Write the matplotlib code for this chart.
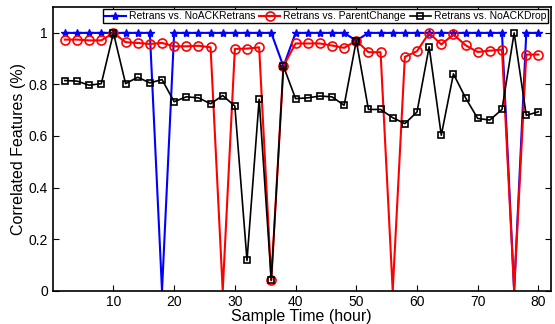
import matplotlib
matplotlib.use('Agg')
import matplotlib.pyplot as plt

plt.rcParams['font.family'] = ['Liberation Sans', 'DejaVu Sans']

hours = list(range(2, 81, 2))

no_ack_retrans = [1, 1, 1, 1, 1, 1, 1, 1, 0, 1,
                  1, 1, 1, 1, 1, 1, 1, 1, 0.87, 1,
                  1, 1, 1, 1, 0.97, 1, 1, 1, 1, 1,
                  1, 1, 1, 1, 1, 1, 1, 0, 1, 1]

parent_change = [0.974, 0.974, 0.971, 0.971, 1.0, 0.964, 0.961, 0.957, 0.961, 0.948,
                 0.948, 0.950, 0.944, 0, 0.938, 0.939, 0.944, 0.04, 0.871, 0.959,
                 0.959, 0.959, 0.951, 0.942, 0.97, 0.925, 0.925, 0, 0.907, 0.929,
                 1.0, 0.955, 0.994, 0.952, 0.926, 0.931, 0.935, 0, 0.916, 0.916]

no_ack_drop = [0.815, 0.813, 0.797, 0.803, 1.0, 0.803, 0.828, 0.806, 0.819, 0.733,
               0.752, 0.748, 0.725, 0.757, 0.716, 0.117, 0.742, 0.04, 0.871, 0.745,
               0.748, 0.755, 0.752, 0.719, 0.97, 0.703, 0.703, 0.671, 0.648, 0.693,
               0.946, 0.603, 0.841, 0.748, 0.668, 0.662, 0.703, 1.0, 0.680, 0.694]


def visible(vals):
    # markers sitting on the x axis are clipped away in the original
    return [i for i, v in enumerate(vals) if v > 0]


fig = plt.figure(figsize=(5.55, 3.24), dpi=100)
ax = fig.add_axes([0.095, 0.103, 0.897, 0.875])

ax.plot(hours, no_ack_retrans, color='blue', marker='*', markersize=6, linewidth=1.5,
        markevery=visible(no_ack_retrans), label='Retrans vs. NoACKRetrans')
ax.plot(hours, parent_change, color='red', marker='o', markersize=6.5, markerfacecolor='none',
        markeredgewidth=1.2, linewidth=1.5, markevery=visible(parent_change),
        label='Retrans vs. ParentChange')
ax.plot(hours, no_ack_drop, color='black', marker='s', markersize=4.5, markerfacecolor='none',
        markeredgewidth=1.2, linewidth=1.2, markevery=visible(no_ack_drop),
        label='Retrans vs. NoACKDrop')

ax.set_xlim(0, 82)
ax.set_ylim(0, 1.1)
ax.set_xticks([10, 20, 30, 40, 50, 60, 70, 80])
ax.set_yticks([0, 0.2, 0.4, 0.6, 0.8, 1])
ax.set_yticklabels(['0', '0.2', '0.4', '0.6', '0.8', '1'])
ax.tick_params(direction='in', top=True, right=True, labelsize=10, length=4, width=0.8)
for s in ax.spines.values():
    s.set_linewidth(1.2)

ax.set_xlabel('Sample Time (hour)', fontsize=11.5, labelpad=0)
ax.set_ylabel('Correlated Features (%)', fontsize=11.5, labelpad=2)

leg = ax.legend(loc='upper right', ncol=3, fontsize=7.5, frameon=True, fancybox=False,
                edgecolor='black', framealpha=1, handlelength=2, handletextpad=0.3,
                columnspacing=0.4, borderpad=0.2, borderaxespad=0.2)
leg.get_frame().set_linewidth(1.0)

fig.savefig('out.png', dpi=100)
